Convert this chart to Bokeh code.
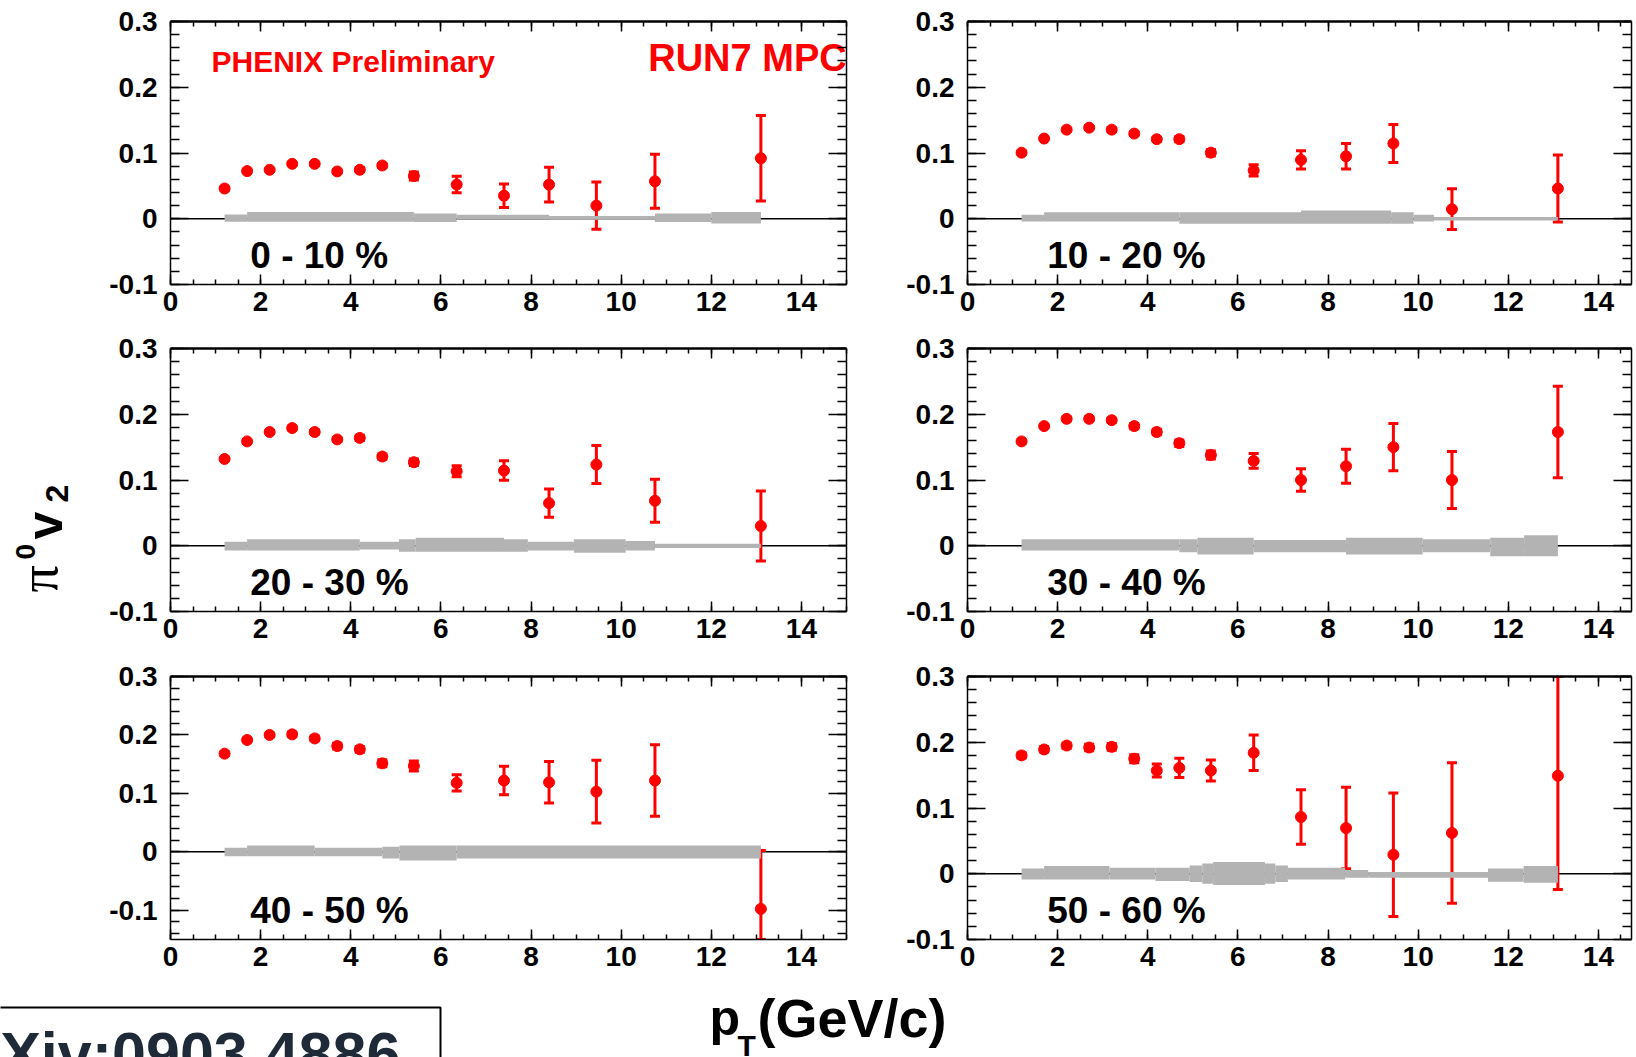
from bokeh.plotting import figure
from bokeh.layouts import row, column
from bokeh.models import (FixedTicker, LinearAxis, Range1d, Span, Whisker, TeeHead,
                          ColumnDataSource, BoxAnnotation)
from bokeh.core.properties import value
from bokeh.embed import file_html
from bokeh.resources import INLINE

# ---------------- data ----------------
pt = [1.2, 1.7, 2.2, 2.7, 3.2, 3.7, 4.2, 4.7, 5.4, 6.35, 7.4, 8.4, 9.45, 10.75, 13.1]

centralities = ["0 - 10 %", "10 - 20 %", "20 - 30 %", "30 - 40 %", "40 - 50 %", "50 - 60 %"]

v2_0_10 = [0.046, 0.0725, 0.0745, 0.0835, 0.0835, 0.072, 0.0745, 0.081, 0.065, 0.052, 0.035, 0.052, 0.020, 0.057, 0.092]
err_0_10 = [0.002, 0.002, 0.002, 0.002, 0.002, 0.002, 0.003, 0.003, 0.006, 0.0125, 0.018, 0.0265, 0.036, 0.041, 0.065]

v2_10_20 = [0.1005, 0.122, 0.1355, 0.1385, 0.1355, 0.1295, 0.121, 0.121, 0.1005, 0.0735, 0.0895, 0.095, 0.1145, 0.0145, 0.046]
err_10_20 = [0.002, 0.002, 0.002, 0.002, 0.003, 0.003, 0.003, 0.004, 0.005, 0.0085, 0.014, 0.0195, 0.029, 0.031, 0.051]

v2_20_30 = [0.132, 0.1587, 0.173, 0.179, 0.173, 0.1617, 0.164, 0.1357, 0.127, 0.1133, 0.1143, 0.0648, 0.1235, 0.0684, 0.030]
err_20_30 = [0.002, 0.002, 0.002, 0.003, 0.003, 0.003, 0.004, 0.004, 0.005, 0.0084, 0.0148, 0.0214, 0.0288, 0.0327, 0.0533]

v2_30_40 = [0.1587, 0.182, 0.193, 0.193, 0.191, 0.182, 0.173, 0.156, 0.138, 0.129, 0.100, 0.121, 0.150, 0.100, 0.173]
err_30_40 = [0.002, 0.002, 0.003, 0.003, 0.003, 0.004, 0.004, 0.005, 0.006, 0.0112, 0.0173, 0.0258, 0.036, 0.0434, 0.0696]

v2_40_50 = [0.168, 0.1914, 0.200, 0.201, 0.194, 0.181, 0.1754, 0.1514, 0.1469, 0.118, 0.122, 0.119, 0.103, 0.122, -0.0977]
err_40_50 = [0.003, 0.003, 0.003, 0.004, 0.004, 0.005, 0.005, 0.006, 0.0086, 0.0137, 0.0243, 0.0354, 0.0537, 0.0611, 0.100]

v2_50_60 = [0.180, 0.189, 0.195, 0.192, 0.193, 0.175, 0.157, 0.161, 0.157, 0.184, 0.0863, 0.0695, 0.029, 0.062, 0.149]
err_50_60 = [0.004, 0.004, 0.004, 0.005, 0.005, 0.006, 0.010, 0.0147, 0.016, 0.027, 0.0416, 0.062, 0.094, 0.107, 0.173]

# systematic bands around zero: segment edges, upper and lower extent
sys_edges_0_10 = [1.2, 1.7, 5.4, 6.35, 8.4, 10.75, 12.0, 13.1]
sys_hi_0_10 = [0.0066, 0.0101, 0.0081, 0.0060, 0.0040, 0.0081, 0.0101]
sys_lo_0_10 = [-0.0046, -0.0046, -0.0051, -0.0010, -0.0015, -0.0051, -0.0071]

sys_edges_10_20 = [1.2, 1.7, 4.7, 7.4, 9.4, 9.9, 10.35, 13.1]
sys_hi_10_20 = [0.006, 0.010, 0.010, 0.0125, 0.010, 0.006, 0.0025]
sys_lo_10_20 = [-0.004, -0.004, -0.0075, -0.0075, -0.0075, -0.004, -0.0025]

sys_edges_20_30 = [1.2, 1.7, 4.2, 5.07, 5.44, 7.4, 7.93, 8.95, 10.1, 10.75, 13.1]
sys_hi_20_30 = [0.0061, 0.0097, 0.0061, 0.0097, 0.0122, 0.0097, 0.0061, 0.0097, 0.0071, 0.0031]
sys_lo_20_30 = [-0.0071, -0.0071, -0.0056, -0.0092, -0.0092, -0.0092, -0.0071, -0.0107, -0.0071, -0.0036]

sys_edges_30_40 = [1.2, 4.7, 5.1, 6.35, 8.4, 10.1, 11.6, 12.35, 13.1]
sys_hi_30_40 = [0.0097, 0.0097, 0.0122, 0.0087, 0.0122, 0.0097, 0.0122, 0.0158]
sys_lo_30_40 = [-0.0071, -0.0097, -0.0133, -0.0097, -0.0133, -0.0097, -0.0158, -0.0158]

sys_edges_40_50 = [1.2, 1.7, 3.2, 4.7, 5.08, 6.35, 13.1]
sys_hi_40_50 = [0.0069, 0.0109, 0.0069, 0.0086, 0.0109, 0.0109]
sys_lo_40_50 = [-0.0074, -0.0074, -0.0074, -0.0114, -0.0149, -0.0114]

sys_edges_50_60 = [1.2, 1.7, 3.15, 4.17, 4.93, 5.21, 5.45, 6.6, 6.83, 7.11, 8.38, 8.89, 11.55, 12.34, 13.1]
sys_hi_50_60 = [0.0081, 0.0117, 0.0091, 0.0091, 0.0127, 0.0157, 0.0178, 0.0157, 0.0127, 0.0091, 0.0056, 0.0025, 0.0081, 0.0117]
sys_lo_50_60 = [-0.0086, -0.0086, -0.0086, -0.0112, -0.0127, -0.0152, -0.0173, -0.0152, -0.0127, -0.0086, -0.0060, -0.0060, -0.0122, -0.0137]

y_ranges = [(-0.1, 0.3), (-0.1, 0.3), (-0.1, 0.3), (-0.1, 0.3), (-0.15, 0.3), (-0.1, 0.3)]

xtick_values = [0, 2, 4, 6, 8, 10, 12, 14]
xtick_labels = ["0", "2", "4", "6", "8", "10", "12", "14"]
ytick_values = [-0.1, 0.0, 0.1, 0.2, 0.3]
ytick_labels = ["-0.1", "0", "0.1", "0.2", "0.3"]

series = [v2_0_10, v2_10_20, v2_20_30, v2_30_40, v2_40_50, v2_50_60]
errors = [err_0_10, err_10_20, err_20_30, err_30_40, err_40_50, err_50_60]
sys_edges = [sys_edges_0_10, sys_edges_10_20, sys_edges_20_30, sys_edges_30_40, sys_edges_40_50, sys_edges_50_60]
sys_hi = [sys_hi_0_10, sys_hi_10_20, sys_hi_20_30, sys_hi_30_40, sys_hi_40_50, sys_hi_50_60]
sys_lo = [sys_lo_0_10, sys_lo_10_20, sys_lo_20_30, sys_lo_30_40, sys_lo_40_50, sys_lo_50_60]

# ---------------- style ----------------
FONT = "Liberation Sans"
RED = "#ff0000"
GRAY = "#b3b3b3"
TICK_FS = "28px"

x_minor = [i * 0.5 for i in range(0, 31)]
y_minor = [round(-0.2 + 0.02 * i, 2) for i in range(0, 26)]

ROW_TOP = [21, 18, 16]
ROW_H = 330
FRAME_H = 263
LABEL_W = 95


def style_axis(ax, ticks, minor, labels, tick_in, minor_in, show_labels, lw, standoff):
    ax.ticker = FixedTicker(ticks=ticks, minor_ticks=minor)
    ax.major_tick_in = tick_in
    ax.major_tick_out = 0
    ax.minor_tick_in = minor_in
    ax.minor_tick_out = 0
    ax.axis_line_width = lw
    ax.axis_line_color = "black"
    ax.major_tick_line_width = 1.5
    ax.minor_tick_line_width = 1.5
    if show_labels:
        ax.major_label_overrides = {t: l for t, l in zip(ticks, labels)}
        ax.major_label_text_font = FONT
        ax.major_label_text_font_style = "bold"
        ax.major_label_text_font_size = TICK_FS
        ax.major_label_text_color = "black"
        ax.major_label_standoff = standoff
    else:
        ax.major_label_overrides = {t: "" for t in ticks}
        ax.major_label_text_font_size = "1px"
        ax.major_label_text_color = None
        ax.major_label_standoff = 0


def make_panel(i):
    r, c = divmod(i, 2)
    ymin, ymax = y_ranges[i]
    if c == 0:
        xend = 15.0
        fw = 676
        bl, br = 170 - LABEL_W, 24
    else:
        fw = 664
        xend = 15.0 * fw / 676.0
        bl, br = 97, 2
    top = ROW_TOP[r]
    p = figure(frame_width=fw, frame_height=FRAME_H,
               x_range=Range1d(0, xend), y_range=Range1d(ymin, ymax),
               toolbar_location=None, output_backend="svg",
               x_axis_location=None, y_axis_location=None,
               min_border_left=bl, min_border_right=br,
               min_border_top=top, min_border_bottom=ROW_H - FRAME_H - top)
    p.outline_line_color = None
    p.xgrid.visible = False
    p.ygrid.visible = False
    p.background_fill_color = "white"
    p.border_fill_color = "white"

    bottom = LinearAxis()
    style_axis(bottom, xtick_values, x_minor, xtick_labels, 10, 5, True, 1.5, 7)
    p.add_layout(bottom, "below")
    above = LinearAxis()
    style_axis(above, xtick_values, x_minor, xtick_labels, 10, 5, False, 2.5, 0)
    p.add_layout(above, "above")
    left = LinearAxis()
    style_axis(left, ytick_values, y_minor, ytick_labels, 18, 9, True, 1.5, 13)
    p.add_layout(left, "left")
    right = LinearAxis()
    style_axis(right, ytick_values, y_minor, ytick_labels, 18, 9, False, 1.5, 0)
    p.add_layout(right, "right")

    zero = Span(location=0, dimension="width", line_color="black", line_width=1.5, level="underlay")
    p.add_layout(zero)

    e = sys_edges[i]
    p.quad(left=e[:-1], right=e[1:], top=sys_hi[i], bottom=sys_lo[i],
           fill_color=GRAY, line_color=None)

    y = series[i]
    err = errors[i]
    src = ColumnDataSource(dict(
        x=pt, y=y,
        upper=[min(v + d, ymax) for v, d in zip(y, err)],
        lower=[max(v - d, ymin) for v, d in zip(y, err)],
    ))
    wk = Whisker(base="x", upper="upper", lower="lower", source=src,
                 line_color=RED, line_width=3,
                 upper_head=TeeHead(size=10, line_color=RED, line_width=3),
                 lower_head=TeeHead(size=10, line_color=RED, line_width=3))
    p.add_layout(wk)
    p.scatter("x", "y", source=src, size=11, marker="circle",
              fill_color=RED, line_color=RED)

    base_y = ymax - 0.888 * (ymax - ymin)
    p.text(x=[1.77], y=[base_y], text=[centralities[i]],
           text_font=value(FONT), text_font_style="bold", text_font_size="37px",
           text_color="black", text_align="left", text_baseline="alphabetic")
    if i == 0:
        p.text(x=[0.91], y=[0.239], text=["PHENIX Preliminary"],
               text_font=value(FONT), text_font_style="bold", text_font_size="30px",
               text_color=RED, text_align="left", text_baseline="alphabetic")
        p.text(x=[10.6], y=[0.244], text=["RUN7 MPC"],
               text_font=value(FONT), text_font_style="bold", text_font_size="38px",
               text_color=RED, text_align="left", text_baseline="alphabetic")
    return p


panels = [make_panel(i) for i in range(6)]
grid = column(row(panels[0], panels[1]), row(panels[2], panels[3]), row(panels[4], panels[5]))

# y-axis title strip (pixel-like coordinates)
H_TOP = 3 * ROW_H
yl = figure(width=LABEL_W, height=H_TOP, x_range=Range1d(0, LABEL_W), y_range=Range1d(0, H_TOP),
            toolbar_location=None, output_backend="svg",
            x_axis_location=None, y_axis_location=None,
            min_border_left=0, min_border_right=0, min_border_top=0, min_border_bottom=0)
yl.outline_line_color = None
yl.xgrid.visible = False
yl.ygrid.visible = False
ang = 1.5708
yl.text(x=[38], y=[H_TOP - 592], text=["π"], angle=ang, text_font=value("Liberation Serif"),
        text_font_size="54px", text_color="black", text_baseline="alphabetic", text_align="left")
yl.text(x=[25], y=[H_TOP - 559], text=["0"], angle=ang, text_font=value(FONT), text_font_style="bold",
        text_font_size="28px", text_color="black", text_baseline="alphabetic", text_align="left")
yl.text(x=[44], y=[H_TOP - 539], text=["v"], angle=ang, text_font=value(FONT), text_font_style="bold",
        text_font_size="50px", text_color="black", text_baseline="alphabetic", text_align="left")
yl.text(x=[56], y=[H_TOP - 502], text=["2"], angle=ang, text_font=value(FONT), text_font_style="bold",
        text_font_size="32px", text_color="black", text_baseline="alphabetic", text_align="left")

# bottom strip: x-axis title and reference box
BH = 1057 - H_TOP
bt = figure(width=1636, height=BH, x_range=Range1d(0, 1636), y_range=Range1d(0, BH),
            toolbar_location=None, output_backend="svg",
            x_axis_location=None, y_axis_location=None,
            min_border_left=0, min_border_right=0, min_border_top=0, min_border_bottom=0)
bt.outline_line_color = None
bt.xgrid.visible = False
bt.ygrid.visible = False
bt.text(x=[709], y=[40], text=["p"], text_font=value(FONT), text_font_style="bold",
        text_font_size="50px", text_color="black", text_baseline="alphabetic", text_align="left")
bt.text(x=[737], y=[12], text=["T"], text_font=value(FONT), text_font_style="bold",
        text_font_size="30px", text_color="black", text_baseline="alphabetic", text_align="left")
bt.text(x=[757], y=[40], text=["(GeV/c)"], text_font=value(FONT), text_font_style="bold",
        text_font_size="54px", text_color="black", text_baseline="alphabetic", text_align="left")
bt.add_layout(BoxAnnotation(left=-10, right=440, bottom=-10, top=BH - 1007 + H_TOP,
                            fill_alpha=0, line_color="black", line_alpha=1.0, line_width=2))
bt.text(x=[-58], y=[3.5], text=["arXiv:0903.4886"], text_font=value(FONT),
        text_font_style="bold", text_font_size="61px", text_color="#1e2a38",
        text_baseline="alphabetic", text_align="left")

layout = column(row(yl, grid), bt)

open("out.html", "w").write(file_html(layout, INLINE))
